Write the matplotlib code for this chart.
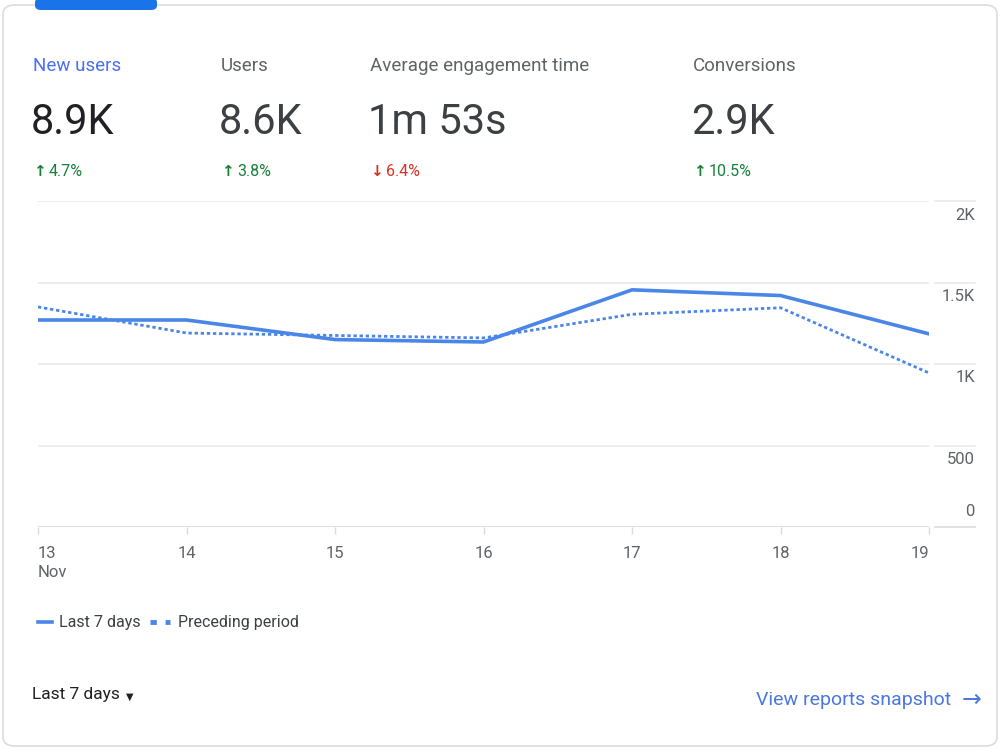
import matplotlib
matplotlib.use("Agg")
import matplotlib.pyplot as plt
from matplotlib.lines import Line2D
from matplotlib.patches import FancyBboxPatch
import matplotlib.transforms as mtrans

plt.rcParams['font.family'] = ['Roboto', 'DejaVu Sans']

# ---- data ----
days = [13, 14, 15, 16, 17, 18, 19]
day_labels = ["13\nNov", "14", "15", "16", "17", "18", "19"]
last_7_days = [1270, 1270, 1150, 1135, 1455, 1420, 1185]
preceding_period = [1350, 1190, 1175, 1160, 1305, 1345, 945]
y_ticks = [0, 500, 1000, 1500, 2000]
y_tick_labels = ["0", "500", "1K", "1.5K", "2K"]

metric_names = ["New users", "Users", "Average engagement time", "Conversions"]
metric_values = ["8.9K", "8.6K", "1m 53s", "2.9K"]
metric_changes = ["4.7%", "3.8%", "6.4%", "10.5%"]
metric_up = [True, True, False, True]

BLUE = "#4a86e8"
GRID = "#e8eaed"
BASE = "#dadce0"

W, H = 1000, 750
fig = plt.figure(figsize=(10, 7.5), dpi=100)
fig.patch.set_facecolor("white")
renderer = fig.canvas.get_renderer()

def fx(px):
    return px / W

def fy(py):
    return 1 - py / H

def right_px(t):
    bb = t.get_window_extent(renderer=renderer)
    return bb.x1

# card border
card = FancyBboxPatch((fx(3), fy(746)), fx(994), (741) / H,
                      boxstyle="round,pad=0,rounding_size=0.012",
                      transform=fig.transFigure, facecolor="white",
                      edgecolor=BASE, linewidth=1.2, zorder=0)
fig.add_artist(card)
# blue tab
tab = FancyBboxPatch((fx(35), fy(10)), fx(122), 12 / H,
                     boxstyle="round,pad=0,rounding_size=0.006",
                     transform=fig.transFigure, facecolor="#1a73e8",
                     edgecolor="none", zorder=1, clip_on=False)
fig.add_artist(tab)

# metrics header
metric_x = [33, 221, 370, 693]
for i, (name, val, ch, up) in enumerate(zip(metric_names, metric_values, metric_changes, metric_up)):
    x = fx(metric_x[i])
    fig.text(x, fy(66), name, fontsize=13.5, color="#4c6ef5" if i == 0 else "#5f6368",
             va="center", ha="left")
    fig.text(x - 0.002, fy(123), val, fontsize=30, color="#202124" if i == 0 else "#3c4043",
             va="center", ha="left")
    col = "#188038" if up else "#d93025"
    arrow = "\u2191" if up else "\u2193"
    a = fig.text(x, fy(172), arrow, fontsize=11, color=col, va="center", ha="left",
                 family=["DejaVu Sans"], fontweight="bold")
    fig.text((right_px(a) + 3) / W, fy(172), ch, fontsize=11.5, color=col,
             va="center", ha="left")

# chart axes
ax = fig.add_axes([fx(38), fy(527), fx(929 - 38), (527 - 201) / H])
ax.set_xlim(days[0], days[-1])
ax.set_ylim(0, 2000)
for s in ax.spines.values():
    s.set_visible(False)

for v in y_ticks:
    c = BASE if v == 0 else GRID
    ax.axhline(v, xmin=0, xmax=1, color=c, linewidth=1.2, zorder=1)
    ax.axhline(v, xmin=(935 - 38) / 891, xmax=(975 - 38) / 891, color=c,
               linewidth=1.2, clip_on=False, zorder=1)

ax.plot(days, preceding_period, color=BLUE, linewidth=2.0,
        linestyle=(0, (1.2, 1.0)), zorder=3)
ax.plot(days, last_7_days, color=BLUE, linewidth=2.6, zorder=4,
        solid_joinstyle="round")

# y tick labels (right, right-aligned)
ax.set_yticks([])
blend = mtrans.blended_transform_factory(ax.transAxes, ax.transData)
for v, lab in zip(y_ticks, y_tick_labels):
    dy = 15 if v == 0 else -14
    off = mtrans.ScaledTranslation(0, dy / 100, fig.dpi_scale_trans)
    ax.text(1 + (975 - 929) / 891, v, lab, transform=blend + off, ha="right",
            va="center", fontsize=12, color="#5f6368")

# x ticks
ax.set_xticks(days)
ax.set_xticklabels(day_labels)
ax.tick_params(axis="x", length=5, width=1, color=BASE, pad=9,
               labelsize=12, labelcolor="#5f6368")
labels = ax.get_xticklabels()
labels[0].set_ha("left")
labels[0].set_linespacing(1.3)
labels[-1].set_ha("right")

# legend (manual)
ly = fy(622)
fig.add_artist(Line2D([fx(38), fx(52)], [ly, ly], color=BLUE, linewidth=2.6,
                      transform=fig.transFigure))
t1 = fig.text(fx(59), ly, "Last 7 days", fontsize=11.5, color="#3c4043", va="center", ha="left")
x0 = right_px(t1) + 9
fig.add_artist(Line2D([x0 / W, (x0 + 20) / W], [ly, ly], color=BLUE, linewidth=3.5,
                      linestyle=(0, (1.3, 1.8)), transform=fig.transFigure))
fig.text((x0 + 28) / W, ly, "Preceding period", fontsize=11.5, color="#3c4043",
         va="center", ha="left")

# footer
t2 = fig.text(fx(32), fy(695), "Last 7 days", fontsize=12.5, color="#202124",
              va="center", ha="left")
fig.text((right_px(t2) + 6) / W, fy(697), "\u25BC", fontsize=7, color="#202124",
         va="center", ha="left", family=["DejaVu Sans"])
fig.text(fx(951), fy(700), "View reports snapshot", fontsize=14, color="#4a78e0",
         va="center", ha="right")
fig.text(fx(981), fy(700), "\u2192", fontsize=17, color="#4a78e0", va="center", ha="right",
         family=["DejaVu Sans"])

fig.savefig("out.png", dpi=100, facecolor="white")
